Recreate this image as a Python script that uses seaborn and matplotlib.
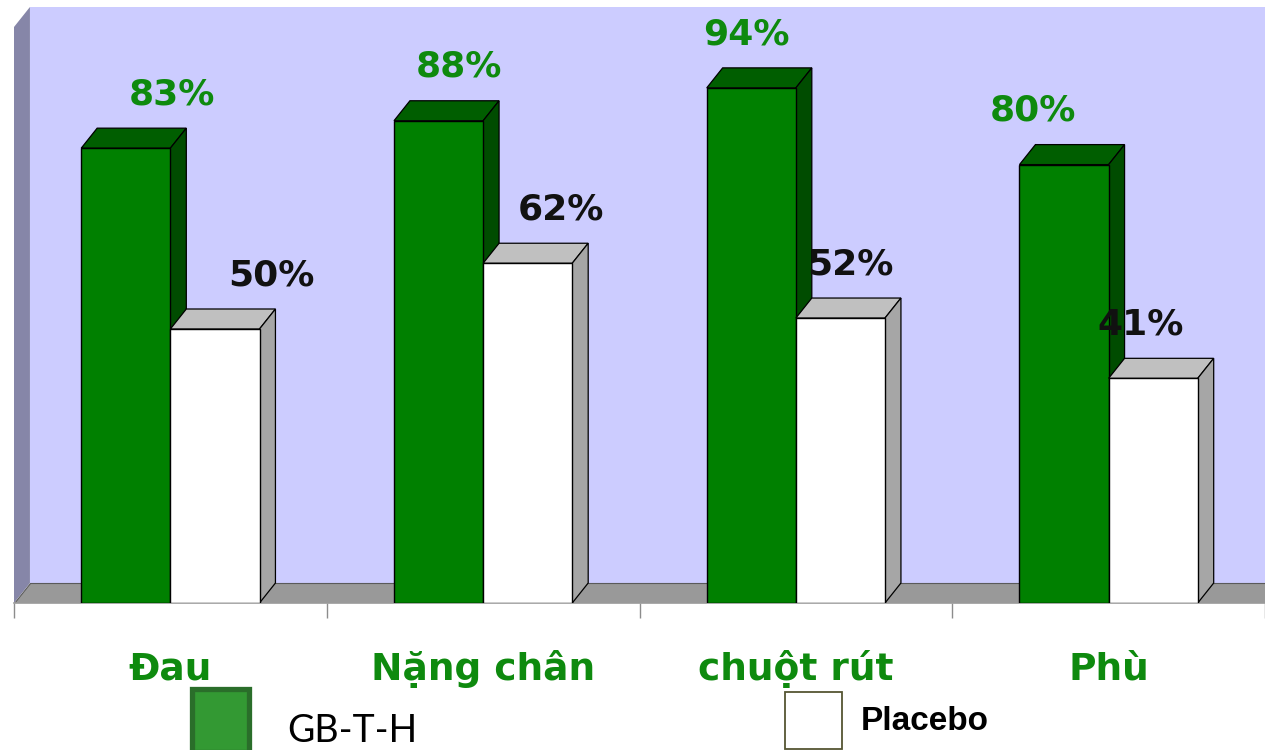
import numpy as np
import pandas as pd
import matplotlib
matplotlib.use('Agg')
import matplotlib.pyplot as plt
import seaborn as sns
from matplotlib.patches import Polygon, Rectangle

# ---------------- data ----------------
categories = ['Đau', 'Nặng chân', 'chuột rút', 'Phù']
series_names = ['GB-T-H', 'Placebo']
gbth_values = [83, 88, 94, 80]
placebo_values = [50, 62, 52, 41]
gbth_labels = ['83%', '88%', '94%', '80%']
placebo_labels = ['50%', '62%', '52%', '41%']

df = pd.DataFrame({
    'category': categories * 2,
    'series': [series_names[0]] * len(categories) + [series_names[1]] * len(categories),
    'value': gbth_values + placebo_values,
})

# ---------------- style ----------------
W, H = 1265, 750
sns.set_theme(style='white')
plt.rcParams['font.family'] = ['DejaVu Sans']

GREEN = '#008000'
GREEN_TOP = '#005E00'
GREEN_SIDE = '#004C00'
WHITE_TOP = '#C0C0C0'
WHITE_SIDE = '#A6A6A6'
WALL = '#CCCCFF'
LEFT_WALL = '#8686A8'
FLOOR = '#999999'
TEXT_GREEN = '#0E8A0E'

PX_PER_CAT = 314.0
PX_PER_UNIT = 5.48

fig = plt.figure(figsize=(W / 100, H / 100), dpi=100)
fig.patch.set_facecolor('white')
ax = fig.add_axes([14 / W, 147 / H, 1251 / W, 603 / H])
ax.set_facecolor('white')

XMIN = -0.5
XMAX = XMIN + 1251 / PX_PER_CAT
YMAX = 603 / PX_PER_UNIT
DX = 16 / PX_PER_CAT
DY = 20 / PX_PER_UNIT
WALL_TOP = 596 / PX_PER_UNIT

# ---------------- bars (front faces) ----------------
sns.barplot(data=df, x='category', y='value', hue='series',
            order=categories, hue_order=series_names,
            palette={series_names[0]: GREEN, series_names[1]: '#FFFFFF'},
            width=0.57, saturation=1, edgecolor='black', linewidth=1.0,
            legend=False, ax=ax)

ax.set_xlim(XMIN, XMAX)
ax.set_ylim(0, YMAX)
ax.set_xlabel('')
ax.set_ylabel('')
ax.set_yticks([])

# ---------------- walls & floor ----------------
ax.add_patch(Polygon([(XMIN + DX, DY), (XMAX + 1, DY), (XMAX + 1, WALL_TOP),
                      (XMIN + DX, WALL_TOP)], closed=True, facecolor=WALL,
                     edgecolor='none', zorder=0.5))
ax.add_patch(Polygon([(XMIN, 0), (XMIN, WALL_TOP - DY), (XMIN + DX, WALL_TOP),
                      (XMIN + DX, DY)], closed=True, facecolor=LEFT_WALL,
                     edgecolor='none', zorder=0.6))
ax.add_patch(Polygon([(XMIN, 0), (XMAX + 1, 0), (XMAX + 1, DY), (XMIN + DX, DY)],
                     closed=True, facecolor=FLOOR, edgecolor='#5a5a5a',
                     linewidth=0.8, zorder=0.7))

# ---------------- 3D faces ----------------
face_styles = [(GREEN_TOP, GREEN_SIDE, 3), (WHITE_TOP, WHITE_SIDE, 4)]
for cont, (top_c, side_c, z) in zip(ax.containers, face_styles):
    for bar in cont:
        x0 = bar.get_x()
        x1 = x0 + bar.get_width()
        h = bar.get_height()
        bar.set_zorder(z + 0.2)
        ax.add_patch(Polygon([(x0, h), (x1, h), (x1 + DX, h + DY), (x0 + DX, h + DY)],
                             closed=True, facecolor=top_c, edgecolor='black',
                             linewidth=0.9, zorder=z))
        ax.add_patch(Polygon([(x1, 0), (x1 + DX, DY), (x1 + DX, h + DY), (x1, h)],
                             closed=True, facecolor=side_c, edgecolor='black',
                             linewidth=0.9, zorder=z))

# ---------------- value labels ----------------
for i, (bar, txt) in enumerate(zip(ax.containers[0], gbth_labels)):
    cx = bar.get_x() + bar.get_width() / 2 + (0.148 - 0.082 * i)
    ax.text(cx, bar.get_height() + 8.0, txt, ha='center', va='baseline',
            fontsize=26, fontweight='bold', color=TEXT_GREEN, zorder=10)
for i, (bar, txt) in enumerate(zip(ax.containers[1], placebo_labels)):
    cx = bar.get_x() + bar.get_width() / 2 + (0.179 - 0.073 * i)
    ax.text(cx, bar.get_height() + 8.0, txt, ha='center', va='baseline',
            fontsize=26, fontweight='bold', color='#111111', zorder=10)

# ---------------- axis ----------------
for s in ['left', 'top', 'right']:
    ax.spines[s].set_visible(False)
ax.spines['bottom'].set_color('#9a9a9a')
ax.spines['bottom'].set_linewidth(1.2)
ax.set_xticks(range(len(categories)))
ax.set_xticklabels(categories, fontsize=27, fontweight='bold', color=TEXT_GREEN)
ax.set_xticks(np.arange(XMIN, len(categories), 1.0), minor=True)
ax.tick_params(axis='x', which='major', length=0, pad=55.4)
ax.tick_params(axis='x', which='minor', length=10.8, width=1.0, color='#8c8c8c',
               direction='out', bottom=True)
for lbl in ax.get_xticklabels():
    lbl.set_va('baseline')

# ---------------- legend (drawn as boxes + text) ----------------
fig.add_artist(Rectangle((192 / W, (750 - 752) / H), 57 / W, 63 / H,
                         transform=fig.transFigure, facecolor='#339933',
                         edgecolor='#2A6E2A', linewidth=3.8))
fig.text(352 / W, (750 - 742) / H, series_names[0], ha='center', va='baseline',
         fontsize=27, family=['Lato', 'DejaVu Sans'], color='black')
fig.add_artist(Rectangle((785 / W, (750 - 749) / H), 57 / W, 57 / H,
                         transform=fig.transFigure, facecolor='white',
                         edgecolor='#555533', linewidth=1.3))
fig.text(925 / W, (750 - 730) / H, series_names[1], ha='center', va='baseline',
         fontsize=24, fontweight='bold', family=['Liberation Sans', 'DejaVu Sans'],
         color='black')

fig.savefig('out.png', dpi=100)
